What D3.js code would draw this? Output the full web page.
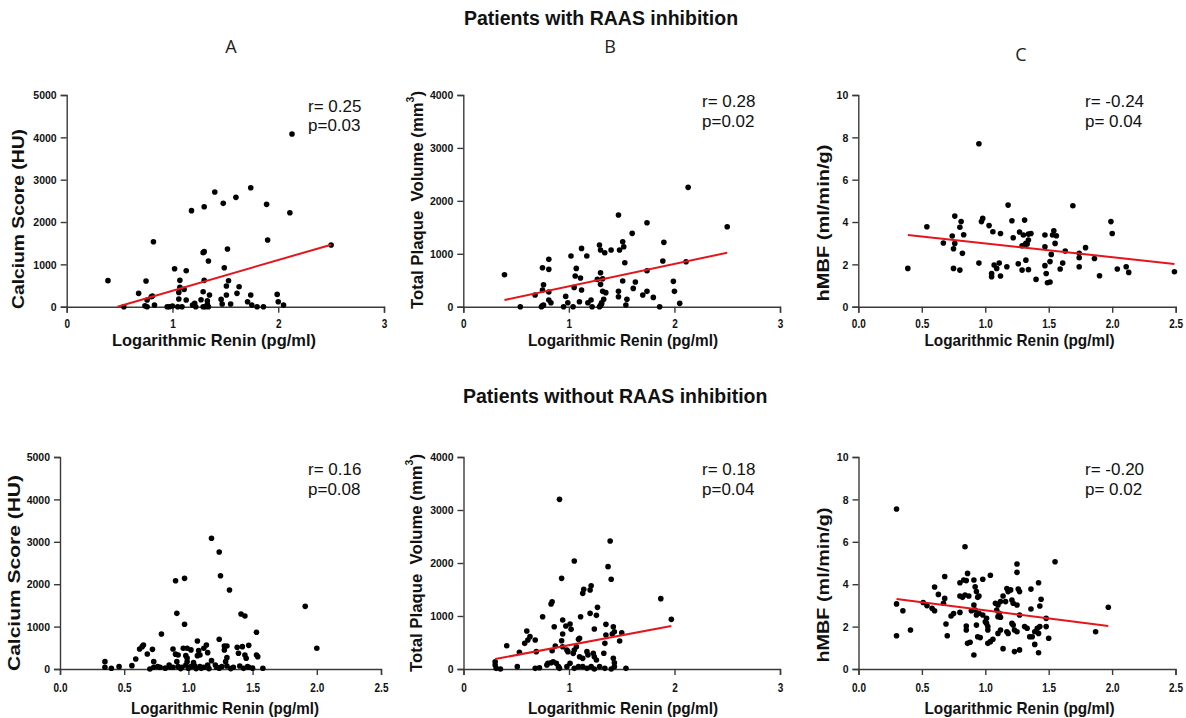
<!DOCTYPE html>
<html>
<head>
<meta charset="utf-8">
<script src="https://cdn.jsdelivr.net/npm/d3@7"></script>
<style>
  body { margin: 0; background: #fff; }
  svg { display: block; }
  text { font-family: "Liberation Sans", Arial, sans-serif; }
</style>
</head>
<body>
<svg id="chart" width="1186" height="718"></svg>
<script>
// ---------------- DATA ----------------
const titleTop = "Patients with RAAS inhibition";
const titleBottom = "Patients without RAAS inhibition";
const panelLetters = ["A", "B", "C"];
const xLabel = "Logarithmic Renin (pg/ml)";
const yLabelCalcium = "Calcium Score (HU)";
const yLabelPlaque = "Total Plaque  Volume (mm";
const yLabelMBF = "hMBF (ml/min/g)";

const xTicks3 = [0, 1, 2, 3];
const xTicks25 = [0, 0.5, 1.0, 1.5, 2.0, 2.5];
const yTicksCalcium = [0, 1000, 2000, 3000, 4000, 5000];
const yTicksPlaque = [0, 1000, 2000, 3000, 4000];
const yTicksMBF = [0, 2, 4, 6, 8, 10];

const statsTopA = ["r= 0.25", "p=0.03"];
const statsTopB = ["r= 0.28", "p=0.02"];
const statsTopC = ["r= -0.24", "p= 0.04"];
const statsBotA = ["r= 0.16", "p=0.08"];
const statsBotB = ["r= 0.18", "p=0.04"];
const statsBotC = ["r= -0.20", "p= 0.02"];

// [log renin, value]
const ptsTopA = [[0.39,615],[0.54,0],[0.68,315],[0.75,606],[0.76,0],[0.76,157],[0.74,20],[0.80,236],[0.81,250],[0.82,1535],[0.83,40],[0.95,0],[0.97,0],[1.00,15],[1.02,898],[1.05,0],[1.06,181],[1.06,338],[1.07,622],[1.07,457],[1.09,0],[1.11,409],[1.13,850],[1.13,157],[1.18,2268],[1.19,40],[1.21,79],[1.22,0],[1.27,165],[1.29,1276],[1.30,1300],[1.30,2362],[1.30,622],[1.29,354],[1.29,0],[1.31,0],[1.33,63],[1.33,142],[1.34,0],[1.35,276],[1.34,1079],[1.40,2709],[1.46,173],[1.47,63],[1.48,2441],[1.49,921],[1.51,276],[1.51,488],[1.52,1362],[1.53,614],[1.55,63],[1.60,2583],[1.61,315],[1.63,472],[1.71,118],[1.74,2811],[1.74,276],[1.75,40],[1.80,0],[1.86,0],[1.89,2417],[1.90,1575],[1.99,291],[2.00,118],[2.05,40],[2.11,2220],[2.13,4079],[2.50,1457]];
const fitTopA = [[0.48,0],[2.5,1465]];

const ptsTopB = [[0.39,605],[0.54,0],[0.68,220],[0.74,0],[0.75,20],[0.76,31],[0.75,737],[0.75,315],[0.76,416],[0.81,706],[0.81,895],[0.81,277],[0.81,126],[0.83,76],[0.95,0],[0.97,195],[0.99,76],[1.02,957],[1.04,0],[1.05,365],[1.06,580],[1.07,724],[1.10,94],[1.11,542],[1.12,315],[1.12,1102],[1.17,957],[1.18,76],[1.21,126],[1.22,0],[1.27,517],[1.29,0],[1.30,25],[1.31,50],[1.31,76],[1.29,1165],[1.30,642],[1.30,1071],[1.30,422],[1.32,529],[1.32,290],[1.33,139],[1.34,1020],[1.35,265],[1.40,1071],[1.47,1732],[1.47,290],[1.47,189],[1.48,1071],[1.51,1228],[1.51,485],[1.52,1134],[1.53,831],[1.54,31],[1.55,139],[1.60,1386],[1.61,346],[1.63,466],[1.70,220],[1.74,1587],[1.74,680],[1.74,290],[1.80,176],[1.86,0],[1.89,863],[1.90,1216],[1.99,479],[2.00,290],[2.05,63],[2.11,850],[2.13,2255],[2.50,1512]];
const fitTopB = [[0.39,126],[2.5,1020]];

const ptsTopC = [[0.39,1.81],[0.54,3.78],[0.67,3.01],[0.74,3.34],[0.75,2.74],[0.76,4.28],[0.76,2.99],[0.75,1.81],[0.80,3.75],[0.80,1.73],[0.81,4.02],[0.82,2.52],[0.83,3.40],[0.95,7.70],[0.97,4.02],[0.98,4.17],[0.95,2.06],[1.03,3.83],[1.06,3.54],[1.05,1.57],[1.05,1.42],[1.07,1.97],[1.09,1.81],[1.11,2.06],[1.12,3.46],[1.12,1.45],[1.18,4.80],[1.17,1.89],[1.21,4.06],[1.22,3.26],[1.26,2.03],[1.27,3.53],[1.29,2.88],[1.29,1.73],[1.30,3.39],[1.31,4.09],[1.31,2.91],[1.32,2.99],[1.32,2.20],[1.33,2.96],[1.34,3.15],[1.34,1.75],[1.34,3.43],[1.36,3.46],[1.40,1.29],[1.47,3.39],[1.47,2.83],[1.47,1.94],[1.48,1.57],[1.49,1.13],[1.51,1.17],[1.51,2.13],[1.52,2.47],[1.53,3.39],[1.54,3.59],[1.55,2.99],[1.56,3.35],[1.59,1.78],[1.61,2.06],[1.63,2.63],[1.69,4.77],[1.74,2.52],[1.74,2.31],[1.74,1.89],[1.79,2.79],[1.86,2.28],[1.90,1.46],[1.99,4.02],[2.00,3.46],[2.04,1.78],[2.11,1.89],[2.13,1.62],[2.49,1.65]];
const fitTopC = [[0.39,3.39],[2.49,2.02]];

const ptsBotA = [[1.18,3082],[1.24,2759],[0.90,2083],[0.97,2138],[1.25,2201],[1.32,1863],[1.91,1478],[0.91,1313],[1.41,1297],[1.44,1250],[0.97,1054],[0.79,826],[1.53,865],[2.00,488],[1.07,661],[1.24,700],[0.64,527],[0.65,566],[0.62,472],[0.72,464],[0.68,354],[0.59,236],[0.56,79],[0.46,55],[0.40,16],[0.35,173],[0.35,40],[0.88,472],[0.90,350],[0.92,330],[0.96,488],[0.99,488],[1.02,450],[0.98,315],[0.99,260],[1.08,433],[1.09,330],[1.12,488],[1.14,566],[1.15,386],[1.07,315],[1.28,543],[1.30,543],[1.28,448],[1.30,268],[1.38,511],[1.42,527],[1.47,558],[1.39,370],[1.44,330],[1.45,252],[1.53,330],[1.54,291],[0.73,173],[0.73,40],[0.76,55],[0.78,40],[0.85,95],[0.86,40],[0.88,40],[0.91,173],[0.92,55],[0.95,40],[0.98,95],[0.99,173],[1.02,55],[1.04,150],[1.05,71],[1.09,55],[1.12,40],[1.15,95],[1.18,197],[1.21,95],[1.22,40],[1.26,55],[1.29,173],[1.30,71],[1.35,40],[1.40,71],[1.46,55],[1.47,40],[1.58,16],[0.70,0],[0.82,20],[0.94,10],[1.00,20],[1.06,10],[1.10,15],[1.16,10],[1.24,20],[1.33,10],[1.43,15],[1.50,20]];

const ptsBotB = [[0.91,3201],[1.39,2415],[1.05,2038],[1.37,1931],[1.40,1692],[0.93,1710],[1.21,1572],[1.13,1427],[1.14,1503],[1.20,1490],[0.84,1270],[0.83,1226],[1.87,1327],[0.75,987],[1.11,987],[1.20,1050],[1.27,1163],[1.26,1012],[1.97,937],[0.94,924],[0.86,798],[0.97,811],[1.01,849],[1.02,748],[1.24,754],[1.35,842],[1.42,798],[1.43,704],[1.41,660],[1.50,685],[1.48,528],[0.60,717],[0.63,610],[0.61,547],[0.58,484],[0.68,547],[0.41,440],[0.53,314],[0.69,327],[0.94,660],[0.93,534],[1.09,559],[1.07,421],[0.87,434],[0.84,345],[1.33,296],[1.42,201],[1.43,119],[0.94,421],[0.98,358],[0.99,327],[1.04,295],[1.05,358],[1.17,327],[1.18,264],[1.23,295],[1.24,232],[1.26,169],[1.13,201],[1.10,232],[1.10,578],[1.34,484],[1.35,641],[0.30,138],[0.30,75],[0.31,12],[0.35,0],[0.51,44],[0.68,12],[0.72,25],[0.79,75],[0.80,107],[0.83,119],[0.85,138],[0.88,107],[0.90,44],[0.91,12],[0.98,44],[1.01,107],[1.05,12],[1.09,44],[1.13,44],[1.17,12],[1.21,44],[1.24,0],[1.29,44],[1.34,12],[1.40,0],[1.43,44],[1.54,12]];
const fitBotB = [[0.30,188],[1.97,811]];

const ptsBotC = [[0.92,3.88],[0.93,3.65],[0.94,3.38],[0.95,3.44],[0.91,3.02],[0.92,2.78],[0.93,2.55],[0.95,2.63],[0.89,2.75],[0.82,3.38],[0.84,3.49],[0.87,3.44],[0.85,2.03],[0.85,1.84],[0.86,1.21],[0.88,1.26],[0.91,0.66],[0.96,1.48],[0.93,2.07],[0.94,1.52],[0.98,2.55],[1.01,2.39],[1.00,2.23],[1.01,2.15],[1.02,2.00],[1.02,1.84],[1.02,1.21],[1.04,1.29],[1.06,1.40],[1.08,3.10],[1.10,3.02],[1.12,3.18],[1.09,2.78],[1.11,2.63],[1.10,2.47],[1.12,2.44],[1.10,1.68],[1.12,1.84],[1.14,0.96],[1.14,3.44],[1.16,3.18],[1.17,3.80],[1.18,3.65],[1.20,3.73],[1.21,3.25],[1.22,3.10],[1.25,3.02],[1.17,1.76],[1.18,1.68],[1.21,2.15],[1.22,2.07],[1.23,1.84],[1.25,1.76],[1.23,0.82],[1.27,0.90],[1.27,2.55],[1.26,3.77],[1.27,3.65],[1.31,2.00],[1.33,1.92],[1.35,1.52],[1.37,1.52],[1.39,1.76],[1.41,1.92],[1.42,1.68],[1.43,2.00],[1.36,2.83],[1.43,2.97],[1.44,3.29],[1.39,1.16],[1.42,0.77],[1.42,4.07],[1.36,3.77],[1.48,2.39],[1.48,2.00],[1.50,1.45],[0.30,7.55],[0.84,5.77],[1.55,5.06],[1.25,4.95],[1.25,4.56],[0.30,3.07],[0.30,1.57],[0.35,2.75],[0.41,1.84],[1.87,1.76],[1.97,2.91],[0.51,3.14],[0.54,2.99],[0.58,2.86],[0.60,2.75],[0.60,3.87],[0.63,3.52],[0.68,4.36],[0.68,3.33],[0.67,3.10],[0.69,2.12],[0.70,1.57],[0.73,2.50],[0.75,2.62],[0.80,2.67],[0.80,3.44],[0.80,4.07],[0.83,4.20],[0.85,4.17],[0.86,4.51],[0.91,4.20],[0.98,4.23],[1.04,4.42]];
const fitBotC = [[0.30,3.30],[1.97,2.03]];

// ---------------- LAYOUT ----------------
const svg = d3.select("#chart");
const AXIS = "#3a3a3a";

const panels = [
  { pts: ptsTopA, fit: fitTopA, stats: statsTopA, xd: [0,3], xt: xTicks3, xr: [66.7,384], yd: [0,5000], yt: yTicksCalcium, yr: [306.7,95],
    ylab: yLabelCalcium, sup: false, ylx: 18, yly: 219, ylen: 180, xlx: 214, xlw: 204, xly: 346, sx: 308, sy: 111.7, sdy: 19 },
  { pts: ptsTopB, fit: fitTopB, stats: statsTopB, xd: [0,3], xt: xTicks3, xr: [463.3,780], yd: [0,4000], yt: yTicksPlaque, yr: [306.7,95],
    ylab: yLabelPlaque, sup: true, ylx: 417, yly: 200, ylen: 218, xlx: 623, xlw: 190, xly: 346, sx: 702, sy: 107.3, sdy: 19.4 },
  { pts: ptsTopC, fit: fitTopC, stats: statsTopC, xd: [0,2.5], xt: xTicks25, xr: [858.3,1175.7], yd: [0,10], yt: yTicksMBF, yr: [306.7,95],
    ylab: yLabelMBF, sup: false, ylx: 823, yly: 223, ylen: 157, xlx: 1019.5, xlw: 190, xly: 346, sx: 1085, sy: 106.7, sdy: 20 },
  { pts: ptsBotA, fit: null, stats: statsBotA, xd: [0,2.5], xt: xTicks25, xr: [60,381], yd: [0,5000], yt: yTicksCalcium, yr: [669,457],
    ylab: yLabelCalcium, sup: false, ylx: 14, yly: 573, ylen: 196, xlx: 225, xlw: 188, xly: 714, sx: 308, sy: 475, sdy: 20 },
  { pts: ptsBotB, fit: fitBotB, stats: statsBotB, xd: [0,3], xt: xTicks3, xr: [463.5,780], yd: [0,4000], yt: yTicksPlaque, yr: [669,457],
    ylab: yLabelPlaque, sup: true, ylx: 416, yly: 563, ylen: 218, xlx: 623, xlw: 190, xly: 714, sx: 702, sy: 475, sdy: 20 },
  { pts: ptsBotC, fit: fitBotC, stats: statsBotC, xd: [0,2.5], xt: xTicks25, xr: [858.5,1175.5], yd: [0,10], yt: yTicksMBF, yr: [669,457],
    ylab: yLabelMBF, sup: false, ylx: 823, yly: 585, ylen: 155, xlx: 1019.5, xlw: 190, xly: 714, sx: 1085, sy: 475, sdy: 20 }
];

// titles
svg.append("text").attr("x", 464).attr("y", 25).attr("font-size", 19.5).attr("font-weight", "bold").attr("fill", "#111").text(titleTop);
svg.append("text").attr("x", 463).attr("y", 403).attr("font-size", 19.5).attr("font-weight", "bold").attr("fill", "#111").text(titleBottom);

const letterPos = [[231, 53], [610, 52.7], [1021, 61]];
panelLetters.forEach((l, i) => {
  svg.append("text").attr("x", letterPos[i][0]).attr("y", letterPos[i][1]).attr("text-anchor", "middle")
    .style("font-family", "'Open Sans', 'Noto Sans', sans-serif").attr("font-size", 18).attr("fill", "#222").text(l);
});

panels.forEach((p, i) => {
  const x = d3.scaleLinear().domain(p.xd).range(p.xr);
  const y = d3.scaleLinear().domain(p.yd).range(p.yr);
  const g = svg.append("g");
  const fmtX = p.xd[1] === 3 ? d3.format("d") : d3.format(".1f");

  // x axis
  const gx = g.append("g").attr("transform", `translate(0,${p.yr[0]})`)
    .call(d3.axisBottom(x).tickValues(p.xt).tickFormat(fmtX).tickSizeOuter(0).tickSize(6));
  gx.select(".domain").attr("stroke", AXIS).attr("stroke-width", 1.4);
  gx.selectAll(".tick line").attr("stroke", AXIS).attr("stroke-width", 1.4);
  const xBase = i < 3 ? 21.5 : 23;
  gx.selectAll(".tick text").attr("y", 0).attr("dy", 0)
    .attr("transform", `translate(0,${xBase}) scale(1,1.35)`)
    .attr("font-size", 10).attr("font-weight", "bold").attr("fill", "#111")
    .style("font-family", "'Liberation Sans', Arial, sans-serif");

  // y axis
  const gy = g.append("g").attr("transform", `translate(${p.xr[0]},0)`)
    .call(d3.axisLeft(y).tickValues(p.yt).tickFormat(d3.format("d")).tickSizeOuter(0).tickSize(6));
  gy.select(".domain").attr("stroke", AXIS).attr("stroke-width", 1.4);
  gy.selectAll(".tick line").attr("stroke", AXIS).attr("stroke-width", 1.4);
  gy.selectAll(".tick text").attr("x", -10).attr("dy", "0.35em")
    .attr("font-size", 10.5).attr("font-weight", "bold").attr("fill", "#111")
    .style("font-family", "'Liberation Sans', Arial, sans-serif");

  // points
  g.append("g").selectAll("circle").data(p.pts).join("circle")
    .attr("cx", d => x(d[0])).attr("cy", d => y(d[1])).attr("r", 2.8).attr("fill", "#000");

  // regression line
  if (p.fit) {
    g.append("path").datum(p.fit)
      .attr("d", d3.line().x(d => x(d[0])).y(d => y(d[1])))
      .attr("stroke", "#e4161b").attr("stroke-width", 2).attr("fill", "none");
  }

  // stats text
  p.stats.forEach((s, k) => {
    g.append("text").attr("x", p.sx).attr("y", p.sy + k * p.sdy)
      .attr("font-size", 17).attr("fill", "#111").style("white-space", "pre").text(s);
  });

  // x label
  g.append("text").attr("x", p.xlx).attr("y", p.xly).attr("text-anchor", "middle")
    .attr("font-size", 17).attr("font-weight", "bold").attr("fill", "#111")
    .attr("textLength", p.xlw).attr("lengthAdjust", "spacingAndGlyphs").text(xLabel);

  // y label
  const yl = g.append("text").attr("transform", `translate(${p.ylx},${p.yly}) rotate(-90)`)
    .attr("text-anchor", "middle").attr("dominant-baseline", "central")
    .attr("font-size", 16).attr("font-weight", "bold").attr("fill", "#111")
    .style("white-space", "pre")
    .attr("textLength", p.ylen).attr("lengthAdjust", "spacingAndGlyphs");
  yl.append("tspan").text(p.ylab);
  if (p.sup) {
    yl.append("tspan").attr("font-size", 10).attr("dy", -7).text("3");
    yl.append("tspan").attr("dy", 7).text(")");
  }
});
</script>
</body>
</html>
